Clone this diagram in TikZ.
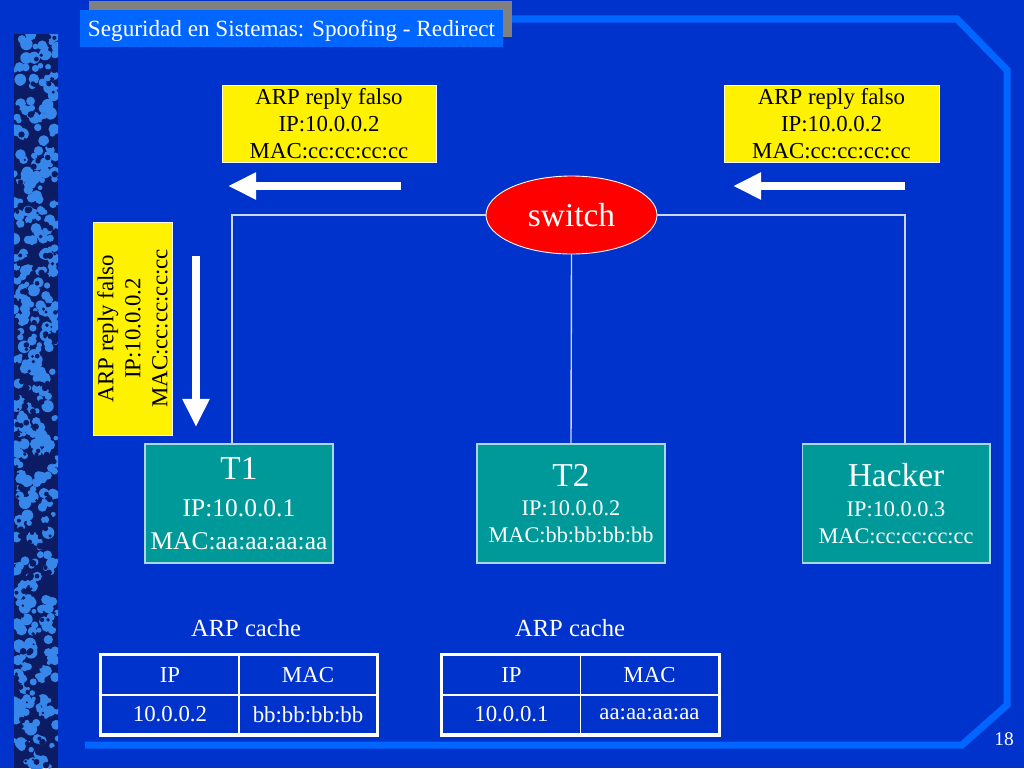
\documentclass[tikz,border=0pt]{standalone}
\usepackage{fontspec}
\setmainfont{Liberation Serif}
\usetikzlibrary{shapes.geometric,arrows.meta}

\definecolor{slideblue}{RGB}{0,51,204}
\definecolor{framecol}{RGB}{0,102,255}
\definecolor{hostfill}{RGB}{0,153,153}
\definecolor{hostline}{RGB}{170,215,225}
\definecolor{linkcol}{RGB}{205,215,235}
\definecolor{stripdark}{RGB}{12,28,100}
\definecolor{striplight}{RGB}{55,135,235}
\definecolor{shadowgray}{RGB}{128,128,128}

\begin{document}
\begin{tikzpicture}[x=0.02cm,y=-0.02cm,
	link/.style={draw=linkcol,line width=0.8pt},
	fakearrow/.style={white,line width=4.8pt,-{Triangle[length=16pt,width=14.5pt]}},
	replybox/.style={fill=yellow,draw=white,line width=0.4pt,text=black,align=center,
		inner sep=0pt,font=\fontsize{13}{15.3}\selectfont},
	host/.style={fill=hostfill,draw=hostline,line width=0.6pt,text=white,align=center,
		minimum width=3.76cm,minimum height=2.38cm,inner sep=0pt},
	cell/.style={draw=white,line width=1pt,minimum width=2.76cm,minimum height=0.79cm,
		text=white,inner sep=0pt,font=\fontsize{13}{15}\selectfont},
	cachelabel/.style={text=white,font=\fontsize{14}{16}\selectfont}]
	\useasboundingbox (0,0) rectangle (1024,768);
	\fill[slideblue] (0,0) rectangle (1024,768);

	% textured strip on the left
	\begin{scope}
		\clip (14,34) rectangle (58,768);
		\fill[stripdark] (14,34) rectangle (58,768);
		\pgfmathsetseed{7}
		\foreach \k in {1,...,420}{
			\pgfmathsetmacro\sx{14+44*rnd}
			\pgfmathsetmacro\sy{34+734*rnd}
			\pgfmathsetmacro\sr{1.2+2.4*rnd}
			\fill[striplight] (\sx,\sy) circle (\sr pt);
		}
		\foreach \k in {1,...,260}{
			\pgfmathsetmacro\sx{14+44*rnd}
			\pgfmathsetmacro\sy{34+734*rnd}
			\pgfmathsetmacro\sr{0.6+1.4*rnd}
			\fill[stripdark] (\sx,\sy) circle (\sr pt);
		}
	\end{scope}

	% frame and title
	\draw[framecol,line width=4pt,line join=miter] (505,19) -- (957,19) -- (1007,70)
		-- (1007,705) -- (962,745) -- (85,745);
	\fill[shadowgray] (89,1) rectangle (512,37);
	\node[fill=framecol,text=white,minimum width=8.46cm,minimum height=0.74cm,inner sep=0pt,
		text depth=0.5pt,font=\fontsize{13.2}{15}\selectfont] (title) at (291.5,28.5)
		{Seguridad en Sistemas: Spoofing - Redirect};
	\node[text=white,font=\fontsize{11}{13}\selectfont] (pagenum) at (1004,739) {18};

	% fake replies
	\node[replybox,minimum width=4.28cm,minimum height=1.54cm] (replyL) at (329,123.5)
		{ARP reply falso\\IP:10.0.0.2\\MAC:cc:cc:cc:cc};
	\node[replybox,minimum width=4.3cm,minimum height=1.54cm] (replyR) at (831.5,123.5)
		{ARP reply falso\\IP:10.0.0.2\\MAC:cc:cc:cc:cc};
	\node[replybox,rotate=90,minimum width=4.26cm,minimum height=1.58cm] (replyV) at (132.5,328.5)
		{ARP reply falso\\IP:10.0.0.2\\MAC:cc:cc:cc:cc};

	\coordinate (arrL1) at (401,186);
	\coordinate (arrL2) at (228,186);
	\coordinate (arrR1) at (905,186);
	\coordinate (arrR2) at (733,186);
	\coordinate (arrV1) at (196,256);
	\coordinate (arrV2) at (196,427);
	\draw[fakearrow] (arrL1) -- (arrL2);
	\draw[fakearrow] (arrR1) -- (arrR2);
	\draw[fakearrow] (arrV1) -- (arrV2);

	% switch and hosts
	\node[ellipse,fill=red,draw=white,line width=0.5pt,text=white,minimum width=3.42cm,
		minimum height=1.56cm,inner sep=0pt,font=\fontsize{19}{22}\selectfont] (switch)
		at (571.5,215) {switch};

	\node[host,font=\fontsize{14.5}{18.7}\selectfont] (T1) at (239,503.5)
		{{\fontsize{19}{22}\selectfont T1}\\[2.8pt]IP:10.0.0.1\\MAC:aa:aa:aa:aa};
	\node[host,font=\fontsize{12.7}{15.3}\selectfont] (T2) at (571,503.5)
		{{\fontsize{19}{22}\selectfont T2}\\[1.7pt]IP:10.0.0.2\\MAC:bb:bb:bb:bb};
	\node[host,font=\fontsize{12.7}{15.3}\selectfont] (hacker) at (896,503.5)
		{{\fontsize{19}{22}\selectfont Hacker}\\[1.7pt]IP:10.0.0.3\\MAC:cc:cc:cc:cc};

	\coordinate (cornerL) at (232,215);
	\coordinate (cornerR) at (905,215);
	\draw[link] (switch.west) -- (cornerL) -- (cornerL |- T1.north);
	\draw[link] (switch.east) -- (cornerR) -- (cornerR |- hacker.north);
	\draw[link] (switch.south) -- (T2.north);

	% ARP caches
	\node[cachelabel] (cacheA) at (246,628) {ARP cache};
	\node[cachelabel] (cacheB) at (570,628) {ARP cache};

	\node[cell] (ipA) at (170,675) {IP};
	\node[cell] (macA) at (308,675) {MAC};
	\node[cell] (ipAval) at (170,714.5) {10.0.0.2};
	\node[cell] (macAval) at (308,714.5) {bb:bb:bb:bb};
	\draw[white,line width=1.7pt] (ipA.north west) rectangle (macAval.south east);

	\node[cell] (ipB) at (511.5,675) {IP};
	\node[cell] (macB) at (649.5,675) {MAC};
	\node[cell] (ipBval) at (511.5,714.5) {10.0.0.1};
	\node[cell] (macBval) at (649.5,714.5) {aa:aa:aa:aa};
	\draw[white,line width=1.7pt] (ipB.north west) rectangle (macBval.south east);
\end{tikzpicture}
\end{document}
